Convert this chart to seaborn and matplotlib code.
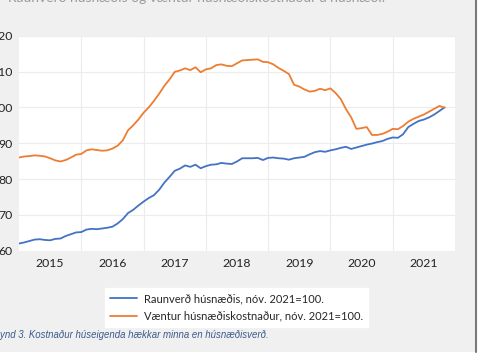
import numpy as np
import pandas as pd
import matplotlib
matplotlib.use("Agg")
import matplotlib.pyplot as plt
from matplotlib.patches import Rectangle
from matplotlib.lines import Line2D
import seaborn as sns

# ----------------------------------------------------------
# Data (monthly, Jan 2015 - Nov 2021)
# ----------------------------------------------------------

raunverd = [
    62.0, 62.3, 62.7, 63.1, 63.2, 63.0, 62.9, 63.3, 63.4, 64.1, 64.6, 65.1,   # 2015
    65.2, 65.9, 66.1, 66.0, 66.2, 66.4, 66.7, 67.6, 68.8, 70.5, 71.4, 72.6,   # 2016
    73.7, 74.7, 75.5, 77.0, 79.0, 80.6, 82.3, 82.9, 83.8, 83.4, 84.0, 83.0,   # 2017
    83.6, 84.0, 84.1, 84.5, 84.3, 84.2, 84.9, 85.8, 85.8, 85.8, 85.9, 85.3,   # 2018
    85.9, 86.0, 85.8, 85.7, 85.4, 85.8, 86.0, 86.2, 86.9, 87.5, 87.8, 87.6,   # 2019
    88.0, 88.3, 88.7, 89.0, 88.4, 88.8, 89.2, 89.6, 89.9, 90.3, 90.6, 91.2,   # 2020
    91.6, 91.5, 92.5, 94.5, 95.4, 96.2, 96.6, 97.2, 98.0, 99.0, 100.0,        # 2021
]

vaentur = [
    86.0, 86.3, 86.4, 86.6, 86.5, 86.3, 85.8, 85.2, 84.9, 85.3, 86.0, 86.8,   # 2015
    87.0, 88.0, 88.3, 88.1, 87.9, 88.0, 88.5, 89.3, 90.8, 93.6, 95.0, 96.6,   # 2016
    98.5, 100.0, 101.8, 103.8, 106.0, 107.8, 109.9, 110.3, 110.9, 110.4, 111.2, 109.8,  # 2017
    110.6, 110.9, 111.8, 112.0, 111.6, 111.5, 112.3, 113.1, 113.2, 113.3, 113.4, 112.7,  # 2018
    112.6, 112.0, 111.0, 110.2, 109.3, 106.3, 105.8, 105.0, 104.4, 104.6, 105.2, 104.8,  # 2019
    105.3, 104.0, 102.3, 99.5, 97.2, 94.0, 94.2, 94.5, 92.3, 92.3, 92.6, 93.2,  # 2020
    94.0, 93.9, 94.8, 96.0, 96.8, 97.4, 98.0, 98.8, 99.6, 100.4, 99.9,        # 2021
]

years = [2015, 2016, 2017, 2018, 2019, 2020, 2021]
y_ticks = [60, 70, 80, 90, 100, 110, 120]

label_blue = "Raunverð húsnæðis, nóv. 2021=100."
label_orange = "Væntur húsnæðiskostnaður, nóv. 2021=100."
caption = "Mynd 3. Kostnaður húseigenda hækkar minna en húsnæðisverð."
top_text = "Raunverð húsnæðis og væntur húsnæðiskostnaður á húsnæði."

BLUE = "#4472C4"
ORANGE = "#ED7D31"

# ----------------------------------------------------------
# Long-form table
# ----------------------------------------------------------

t = 2015 + np.arange(len(raunverd)) / 12
df = pd.concat([
    pd.DataFrame({"t": t, "value": raunverd, "series": label_blue}),
    pd.DataFrame({"t": t, "value": vaentur, "series": label_orange}),
])

# ----------------------------------------------------------
# Plot
# ----------------------------------------------------------

sns.set_theme(style="white")
plt.rcParams["font.family"] = ["Lato", "DejaVu Sans"]

W, H = 480, 360
fig = plt.figure(figsize=(4.8, 3.6), dpi=100, facecolor="white")

# grey panel behind everything + right border line
fig.patches.append(Rectangle((0, 8 / H), 475 / W, 1 - 8 / H,
                             transform=fig.transFigure, facecolor="#f0f0f0",
                             edgecolor="none", zorder=-5))
fig.add_artist(Line2D([476 / W, 476 / W], [8 / H, 1], transform=fig.transFigure,
                      color="#7a7a7a", lw=1.5))

ax = fig.add_axes([19 / W, (H - 250.7) / H, 436 / W, 215 / H])
ax.set_facecolor("white")

sns.lineplot(data=df, x="t", y="value", hue="series",
             palette=[BLUE, ORANGE], linewidth=1.3, ax=ax, legend=False)

ax.set_xlim(2015, 2022)
ax.set_ylim(60, 120)

ax.set_xticks(years[1:])
ax.set_xticklabels([])
ax.set_xticks([y + 0.5 for y in years], minor=True)
ax.set_xticklabels([str(y) for y in years], minor=True, fontsize=8.8, color="#222222")
ax.tick_params(axis="x", which="both", length=0, pad=5)

ax.set_yticks(y_ticks)
ax.set_yticklabels([str(v) for v in y_ticks], fontsize=8.8, color="#222222")
ax.tick_params(axis="y", length=0, pad=4.5)

ax.grid(True, which="major", color="#ececec", linewidth=0.8)
ax.set_axisbelow(True)
for s in ax.spines.values():
    s.set_visible(False)
ax.set_xlabel("")
ax.set_ylabel("")

handles = [Line2D([], [], color=BLUE, lw=1.3), Line2D([], [], color=ORANGE, lw=1.3)]
leg = fig.legend(handles, [label_blue, label_orange], loc="center",
                 bbox_to_anchor=(236.5 / W, 1 - 307.5 / H), fontsize=8,
                 frameon=True, fancybox=False, handlelength=2.4,
                 labelspacing=0.6, borderpad=0.45, handletextpad=0.6)
leg.get_frame().set_facecolor("white")
leg.get_frame().set_edgecolor("white")
leg.get_frame().set_alpha(1)

fig.text(-7.5 / W, 1 - 335 / H, caption, fontsize=6.9, style="italic",
         color="#3a5a8c", va="center", ha="left", family="Liberation Sans")

# title line above the chart, mostly cut off at the top edge
fig.text(8 / W, 1 - 2.5 / H, top_text, fontsize=10, color="#9a9a9a",
         va="baseline", ha="left")

fig.savefig("out.png", dpi=100, facecolor=fig.get_facecolor())
plt.close(fig)
